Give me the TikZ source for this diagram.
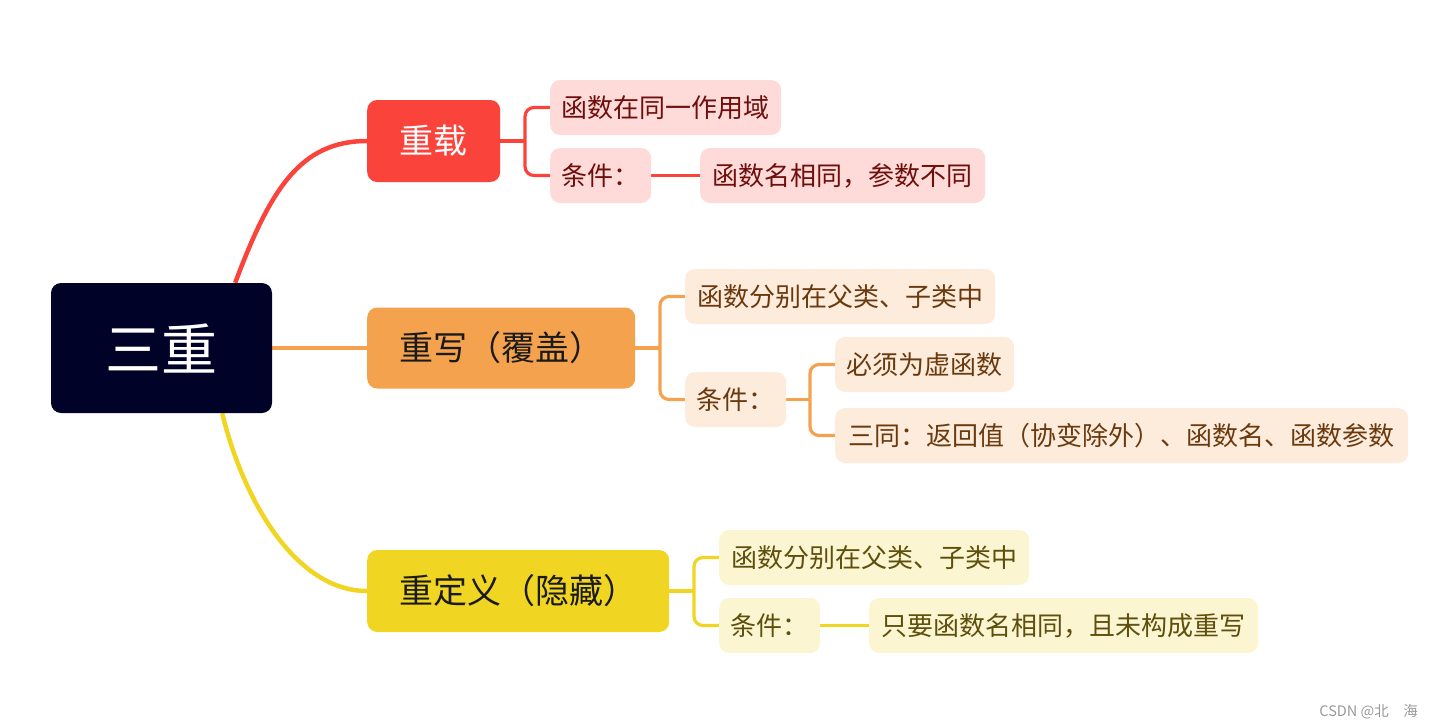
\documentclass[tikz,border=0pt]{standalone}
\usepackage{fontspec}
\setmainfont{Noto Sans CJK SC}
\usetikzlibrary{backgrounds}
\definecolor{rootfill}{HTML}{000228}
\definecolor{redc}{HTML}{F9433B}
\definecolor{redleaf}{HTML}{FEDAD9}
\definecolor{redtext}{HTML}{6E0F0C}
\definecolor{orac}{HTML}{F5A24E}
\definecolor{oraleaf}{HTML}{FDEBDC}
\definecolor{oratext}{HTML}{6A3A0E}
\definecolor{yelc}{HTML}{F1D523}
\definecolor{yelleaf}{HTML}{FCF5D2}
\definecolor{yeltext}{HTML}{5D4F0C}
\definecolor{darktext}{HTML}{1A1A1A}
\definecolor{wm}{HTML}{999999}
\tikzset{
  rootbox/.style={fill=rootfill, text=white, rounded corners=10pt, minimum width=221pt, minimum height=130pt, inner sep=0pt, font=\fontsize{56}{60}\selectfont},
  lvlbox/.style={rounded corners=10pt, minimum height=82pt, inner sep=0pt, anchor=west, font=\fontsize{34}{38}\selectfont},
  leafbox/.style={rounded corners=10pt, minimum height=55pt, inner sep=0pt, anchor=west, font=\fontsize{26}{30}\selectfont},
  mainline/.style={line width=4.5pt},
  subline/.style={line width=3.2pt, rounded corners=9pt},
}
\begin{document}
\begin{tikzpicture}[x=1pt, y=-1pt]
\useasboundingbox (0,0) rectangle (1433,728);
% nodes
\node[rootbox] (root) at (161.5,348) {三重};
\node[lvlbox, fill=redc, text=white, minimum width=133pt] (chz) at (367,141) {重载};
\node[lvlbox, fill=orac, text=darktext, minimum width=268pt, minimum height=81pt] (cx) at (367,348) {重写（覆盖）};
\node[lvlbox, fill=yelc, text=darktext, minimum width=302pt] (cdy) at (367,591) {重定义（隐藏）};
% red leaves
\node[leafbox, fill=redleaf, text=redtext, minimum width=231pt] (r1) at (550,107.5) {函数在同一作用域};
\node[leafbox, fill=redleaf, text=redtext, minimum width=101pt] (r2) at (550,175.5) {条件：};
\node[leafbox, fill=redleaf, text=redtext, minimum width=285pt] (r3) at (700,175.5) {函数名相同，参数不同};
% orange leaves
\node[leafbox, fill=oraleaf, text=oratext, minimum width=310pt] (o1) at (685,296.5) {函数分别在父类、子类中};
\node[leafbox, fill=oraleaf, text=oratext, minimum width=101pt] (o2) at (685,399.5) {条件：};
\node[leafbox, fill=oraleaf, text=oratext, minimum width=179pt] (o3) at (835,364.5) {必须为虚函数};
\node[leafbox, fill=oraleaf, text=oratext, minimum width=573pt] (o4) at (835,435.5) {三同：返回值（协变除外）、函数名、函数参数};
% yellow leaves
\node[leafbox, fill=yelleaf, text=yeltext, minimum width=310pt] (y1) at (719,557.5) {函数分别在父类、子类中};
\node[leafbox, fill=yelleaf, text=yeltext, minimum width=101pt] (y2) at (719,625.5) {条件：};
\node[leafbox, fill=yelleaf, text=yeltext, minimum width=389pt] (y3) at (869,625.5) {只要函数名相同，且未构成重写};
% junction coordinates
\coordinate (jr) at (525,141);
\coordinate (jo) at (660,348);
\coordinate (jo2) at (810,399.5);
\coordinate (jy) at (694,591);
% connectors
\begin{pgfonlayer}{background}
\draw[mainline, redc] ([xshift=-37pt]root.north east) .. controls (270,190) and (300,141) .. (chz.west);
\draw[mainline, orac] (root.east) -- (cx.west);
\draw[mainline, yelc] ([xshift=-50pt]root.south east) .. controls (244,503) and (297,591) .. (cdy.west);
% red
\draw[subline, redc] (chz.east) -- (jr);
\draw[subline, redc] (jr) |- (r1.west);
\draw[subline, redc] (jr) |- (r2.west);
\draw[subline, redc] (r2.east) -- (r3.west);
% orange
\draw[subline, orac] (cx.east) -- (jo);
\draw[subline, orac] (jo) |- (o1.west);
\draw[subline, orac] (jo) |- (o2.west);
\draw[subline, orac] (o2.east) -- (jo2);
\draw[subline, orac] (jo2) |- (o3.west);
\draw[subline, orac] (jo2) |- (o4.west);
% yellow
\draw[subline, yelc] (cdy.east) -- (jy);
\draw[subline, yelc] (jy) |- (y1.west);
\draw[subline, yelc] (jy) |- (y2.west);
\draw[subline, yelc] (y2.east) -- (y3.west);
\end{pgfonlayer}
% watermark
\node[anchor=east, text=wm, font=\fontsize{14.5}{16}\selectfont, inner sep=0pt] (wmk) at (1418,712) {CSDN @北　海};
\end{tikzpicture}
\end{document}
